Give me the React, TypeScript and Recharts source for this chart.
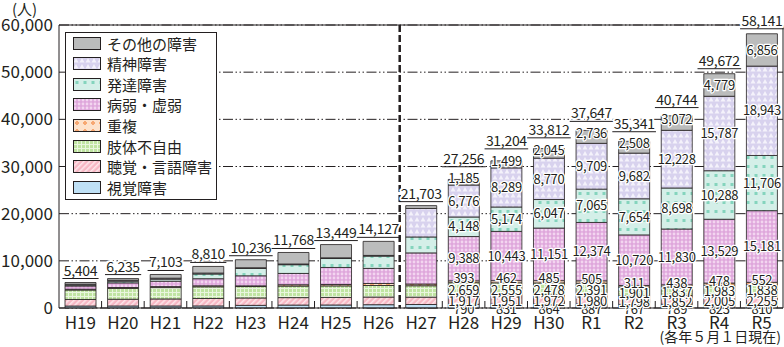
import React from 'react';
import { BarChart, Bar, XAxis, YAxis, CartesianGrid, ReferenceLine, LabelList } from 'recharts';

// 年度
const categories = ['H19', 'H20', 'H21', 'H22', 'H23', 'H24', 'H25', 'H26', 'H27', 'H28', 'H29', 'H30', 'R1', 'R2', 'R3', 'R4', 'R5'];
const totals = [5404, 6235, 7103, 8810, 10236, 11768, 13449, 14127, 21703, 27256, 31204, 33812, 37647, 35341, 40744, 49672, 58141];

// 内訳（H27以前は図から読み取った概算値）
const visual = [420, 430, 430, 440, 560, 620, 640, 700, 740, 790, 831, 864, 887, 767, 789, 823, 810];
const hearing = [1390, 1430, 1490, 1580, 1570, 1580, 1600, 1620, 1560, 1917, 1951, 1972, 1980, 1798, 1852, 2005, 2255];
const physical = [2010, 2280, 2410, 2480, 2420, 2450, 2450, 2450, 2420, 2659, 2555, 2478, 2391, 1901, 1837, 1983, 1838];
const multiple = [150, 200, 210, 210, 150, 280, 300, 430, 360, 393, 462, 485, 505, 311, 438, 478, 552];
const illness = [700, 990, 1140, 1500, 2130, 2400, 3600, 3200, 6600, 9388, 10443, 11151, 12374, 10720, 11830, 13529, 15181];
const developmental = [200, 350, 430, 1000, 1560, 1850, 1900, 2600, 3380, 4148, 5174, 6047, 7065, 7654, 8698, 10288, 11706];
const mental = [180, 200, 210, 200, 140, 150, 150, 150, 6050, 6776, 8289, 8770, 9709, 9682, 12228, 15787, 18943];
const other = [354, 355, 783, 1400, 1706, 2438, 2809, 2977, 593, 1185, 1499, 2045, 2736, 2508, 3072, 4779, 6856];

const yTicks = [0, 10000, 20000, 30000, 40000, 50000, 60000];

const data = categories.map((name, i) => ({
  name,
  visual: visual[i],
  hearing: hearing[i],
  physical: physical[i],
  multiple: multiple[i],
  illness: illness[i],
  developmental: developmental[i],
  mental: mental[i],
  other: other[i],
}));

const FONT = "'Noto Sans CJK JP', 'Noto Sans', sans-serif";
const INK = '#231f20';

const CHART_W = 784;
const CHART_H = 347;
const PLOT_LEFT = 59;
const PLOT_RIGHT = 783;
const PLOT_TOP = 25;
const PLOT_BOTTOM = 308;
const BAND = (PLOT_RIGHT - PLOT_LEFT) / categories.length;

const breakdownFrom = categories.indexOf('H28');
const dividerAfter = categories.indexOf('H26');

type Series = { key: string; name: string; color?: string; dy: number };

// 下から積み上げる順
const series: Series[] = [
  { key: 'visual', name: '視覚障害', color: '#bfe0f5', dy: 3.5 },
  { key: 'hearing', name: '聴覚・言語障害', dy: 2 },
  { key: 'physical', name: '肢体不自由', dy: 1.5 },
  { key: 'multiple', name: '重複', dy: -3 },
  { key: 'illness', name: '病弱・虚弱', dy: 0 },
  { key: 'developmental', name: '発達障害', dy: 0 },
  { key: 'mental', name: '精神障害', dy: 0 },
  { key: 'other', name: 'その他の障害', color: '#bbbcbc', dy: 0 },
];

const paint = (s: Series, prefix: string) => s.color ?? `url(#${prefix}${s.key})`;

const PatternDefs = ({ prefix }: { prefix: string }) => (
  <defs>
    <pattern id={`${prefix}hearing`} width="4" height="4" patternUnits="userSpaceOnUse" patternTransform="rotate(45)">
      <rect width="4" height="4" fill="#f7b7c4" />
      <rect width="1.6" height="4" fill="#fde4e9" />
    </pattern>
    <pattern id={`${prefix}physical`} width="4" height="4" patternUnits="userSpaceOnUse">
      <rect width="4" height="4" fill="#c0e4a2" />
      <rect width="4" height="1" fill="#e9f6de" />
      <rect width="1" height="4" fill="#e9f6de" />
    </pattern>
    <pattern id={`${prefix}multiple`} width="8" height="8" patternUnits="userSpaceOnUse">
      <rect width="8" height="8" fill="#fde2cb" />
      <rect x="3" y="2" width="2" height="4" fill="#f7a872" />
      <rect x="2" y="3" width="4" height="2" fill="#f7a872" />
    </pattern>
    <pattern id={`${prefix}illness`} width="4" height="4" patternUnits="userSpaceOnUse">
      <rect width="4" height="4" fill="#dfa7dc" />
      <circle cx="2" cy="2" r="1.4" fill="#f3d5f0" />
    </pattern>
    <pattern id={`${prefix}developmental`} width="8" height="9" patternUnits="userSpaceOnUse">
      <rect width="8" height="9" fill="#d4efe8" />
      <rect x="2.5" y="3" width="3" height="3" fill="#84d4bd" />
    </pattern>
    <pattern id={`${prefix}mental`} width="6" height="6" patternUnits="userSpaceOnUse">
      <rect width="6" height="6" fill="#d8d2ee" />
      <polygon points="3,1 5.5,5.5 0.5,5.5" fill="#f4f2fb" />
    </pattern>
  </defs>
);

const fmt = (v: number) => Number(v).toLocaleString('en-US');

const textWidth = (s: string, size: number, spacing: number) => {
  let w = 0;
  for (const ch of s) w += ch === ',' ? 0.24 * size : 0.554 * size;
  return w + spacing * (s.length - 1);
};

const boxOf = (props: any) => {
  const vb = props.viewBox || props;
  const x = Number(vb.x);
  const width = Number(vb.width);
  const idx = props.index ?? Math.floor((x + width / 2 - PLOT_LEFT) / BAND);
  return { x, y: Number(vb.y), width, height: Number(vb.height), idx };
};

const makeSegmentLabel = (s: Series) => (props: any) => {
  const { x, y, width, height, idx } = boxOf(props);
  if (idx < breakdownFrom) return null;
  const cx = x + width / 2;
  let cy = y + height / 2 + s.dy;
  if (s.key === 'other' && height < 16) cy -= 3.5;
  return (
    <text
      x={cx}
      y={cy}
      dy="0.36em"
      textAnchor="middle"
      fontSize={13}
      fontFamily={FONT}
      letterSpacing={-0.3}
      fill={INK}
      stroke="#fff"
      strokeWidth={2.5}
      strokeLinejoin="round"
      paintOrder="stroke"
    >
      {fmt(props.value)}
    </text>
  );
};

const TotalLabel = (props: any) => {
  const { x, y, width, height, idx } = boxOf(props);
  const total = totals[idx];
  if (total == null) return null;
  const cx = x + width / 2;
  let line = y - 4;
  if (idx >= breakdownFrom) {
    const mid = y + height / 2 - (height < 16 ? 3.5 : 0);
    line = Math.min(y - 5, mid - 12);
  }
  const text = fmt(total);
  const w = textWidth(text, 14, -0.3) + 3;
  return (
    <g>
      <text
        x={cx}
        y={line - 3}
        textAnchor="middle"
        fontSize={14}
        fontFamily={FONT}
        letterSpacing={-0.3}
        fill={INK}
        stroke="#fff"
        strokeWidth={4}
        strokeLinejoin="round"
        paintOrder="stroke"
      >
        {text}
      </text>
      <line x1={cx - w / 2} x2={cx + w / 2} y1={line} y2={line} stroke={INK} strokeWidth={1} />
    </g>
  );
};

const CategoryTick = (props: any) => {
  const { x, payload, index } = props;
  const edge = x + BAND / 2;
  return (
    <g>
      <text x={x} y={PLOT_BOTTOM + 20.5} textAnchor="middle" fontSize={17} fontFamily={FONT} fill={INK}>
        {payload.value}
      </text>
      {index === dividerAfter ? (
        <line x1={edge} x2={edge} y1={PLOT_TOP} y2={PLOT_BOTTOM} stroke={INK} strokeWidth={2.5} strokeDasharray="7 3" />
      ) : index < categories.length - 1 ? (
        <line x1={edge} x2={edge} y1={PLOT_BOTTOM} y2={PLOT_BOTTOM - 7} stroke={INK} strokeWidth={1} />
      ) : null}
    </g>
  );
};

const legendOrder = [...series].reverse();

const App: React.FC = () => {
  return (
    <div style={{ position: 'absolute', left: 0, top: 0, width: CHART_W, height: CHART_H, fontFamily: FONT, color: INK }}>
      <BarChart
        width={CHART_W}
        height={CHART_H}
        data={data}
        margin={{ top: PLOT_TOP, right: 0, bottom: 9, left: 0 }}
        barSize={31}
      >
        <PatternDefs prefix="c-" />
        <CartesianGrid vertical={false} stroke={INK} strokeWidth={1} strokeDasharray="10 2.5 1.5 2.5 1.5 2.5" />
        <XAxis
          dataKey="name"
          interval={0}
          height={30}
          tickLine={false}
          axisLine={{ stroke: INK }}
          tick={(p: any) => <CategoryTick {...p} />}
        />
        <YAxis
          domain={[0, 60000]}
          ticks={yTicks}
          interval={0}
          width={59}
          tickLine={false}
          tickSize={4}
          tickMargin={2}
          axisLine={{ stroke: INK }}
          tickFormatter={fmt}
          tick={{ fontSize: 17, fill: INK, fontFamily: FONT }}
        />
        <YAxis yAxisId="right" orientation="right" width={1} domain={[0, 60000]} tick={false} tickLine={false} axisLine={{ stroke: INK }} />
        <ReferenceLine y={60000} stroke={INK} strokeWidth={1} />
        {series.map((s) => (
          <Bar
            key={s.key}
            dataKey={s.key}
            name={s.name}
            stackId="a"
            fill={paint(s, 'c-')}
            stroke={INK}
            strokeWidth={0.8}
            isAnimationActive={false}
          >
            <LabelList dataKey={s.key} content={makeSegmentLabel(s)} />
            {s.key === 'other' && <LabelList dataKey="other" content={TotalLabel} />}
          </Bar>
        ))}
      </BarChart>

      <span style={{ position: 'absolute', left: 12, top: 1, fontSize: 15, lineHeight: 1 }}>(人)</span>
      <span style={{ position: 'absolute', right: 3, top: 329, fontSize: 14, lineHeight: 1, whiteSpace: 'nowrap' }}>
        (各年５月１日現在)
      </span>

      <svg width={0} height={0} style={{ position: 'absolute' }}>
        <PatternDefs prefix="lg-" />
      </svg>
      <div
        style={{
          position: 'absolute',
          left: 65,
          top: 32,
          width: 150,
          height: 166,
          border: `1px solid ${INK}`,
          background: '#fff',
        }}
      >
        {legendOrder.map((s, i) => (
          <div
            key={s.key}
            style={{ position: 'absolute', left: 7, top: 3 + i * 20.6, height: 14, display: 'flex', alignItems: 'center' }}
          >
            <svg width={28} height={13}>
              <rect x={0.5} y={0.5} width={27} height={12} fill={paint(s, 'lg-')} stroke={INK} strokeWidth={1} />
            </svg>
            <span style={{ marginLeft: 6, fontSize: 15, lineHeight: 1, whiteSpace: 'nowrap' }}>{s.name}</span>
          </div>
        ))}
      </div>
    </div>
  );
};

export default App;
